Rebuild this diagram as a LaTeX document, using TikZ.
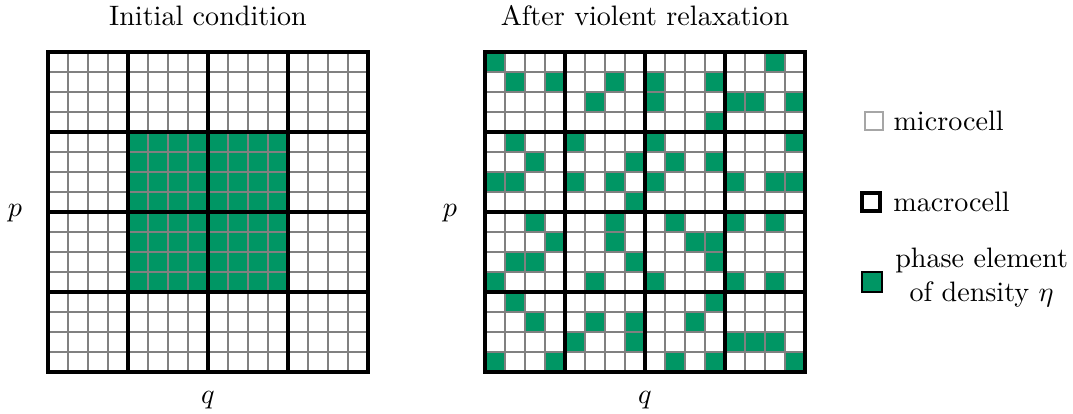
\documentclass[tikz,border=0pt]{standalone}
\usetikzlibrary{positioning}
\definecolor{phasegreen}{RGB}{0,150,100}
\begin{document}
\begin{tikzpicture}[x=0.25cm, y=0.25cm,
    micro/.style={draw=gray, line width=0.45pt, step=1},
    macro/.style={draw=black, line width=1.4pt},
    phase/.style={fill=phasegreen},
    keybox/.style={minimum size=0.225cm, inner sep=0pt}
  ]
  \useasboundingbox (-2.4,-2.1) rectangle (51.25,18.6);

  % initial condition
  \fill[phase] (4,4) rectangle (12,12);
  \draw[micro] (0,0) grid (16,16);
  \draw[macro, step=4] (0,0) grid (16,16);
  \draw[macro] (0,0) rectangle (16,16);
  \node (titleinit) at (8,17.8) {Initial condition};
  \node (pinit) at (-1.65,7.95) {$p$};
  \node (qinit) at (8,-1.4) {$q$};

  % after violent relaxation (rows counted from the top)
  \begin{scope}[shift={(21.85,0)}]
    \foreach \r/\cols in {0/{0,14}, 1/{1,3,6,8,11}, 2/{5,8,12,13,15}, 3/{11},
        4/{1,4,8,15}, 5/{2,7,9,11}, 6/{0,1,4,6,8,12,14,15}, 7/{7},
        8/{2,6,9,12,14}, 9/{3,6,10,11}, 10/{1,2,7,11}, 11/{0,5,8,12,14},
        12/{1,11}, 13/{2,5,7,10}, 14/{4,7,12,13,14}, 15/{0,3,9,11,15}}
      \foreach \c in \cols
        \fill[phase] (\c,15-\r) rectangle ++(1,1);
    \draw[micro] (0,0) grid (16,16);
    \draw[macro, step=4] (0,0) grid (16,16);
    \draw[macro] (0,0) rectangle (16,16);
    \node (titlerelax) at (8,17.8) {After violent relaxation};
    \node (prelax) at (-1.75,7.95) {$p$};
    \node (qrelax) at (8,-1.4) {$q$};
  \end{scope}

  % legend
  \node[keybox, draw=gray!70, line width=0.45pt] (keymicro) at (41.3,12.55) {};
  \node[right=0pt of keymicro] (txtmicro) {microcell};
  \node[keybox, macro, line width=1.6pt, minimum size=0.22cm] (keymacro) at (41.15,8.5) {};
  \node[right=0.5pt of keymacro] (txtmacro) {macrocell};
  \node[keybox, phase, draw=black, line width=0.4pt, minimum size=0.25cm] (keyphase) at (41.2,4.5) {};
  \node[right=1pt of keyphase, align=center, yshift=1.5pt] (txtphase) {phase element\\of density $\eta$};
\end{tikzpicture}
\end{document}
